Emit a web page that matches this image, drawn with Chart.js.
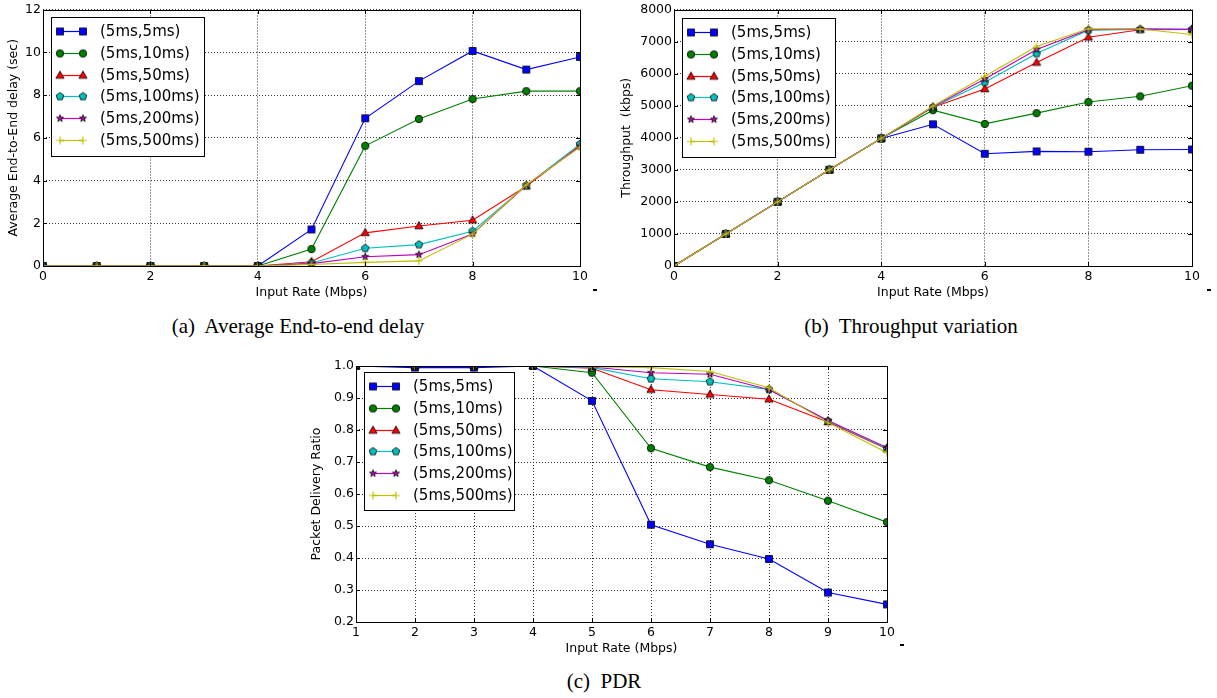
<!DOCTYPE html>
<html>
<head>
<meta charset="utf-8">
<script src="https://cdn.jsdelivr.net/npm/chart.js@4.4.0/dist/chart.umd.min.js"></script>
<style>
  body { margin: 0; background: #fff; width: 1217px; height: 698px; position: relative; overflow: hidden; }
  canvas { position: absolute; }
  .cap { position: absolute; width: 400px; text-align: center; font-family: 'Liberation Serif'; font-size: 21px; line-height: 21px; white-space: pre; color: #000; }
  .dash { position: absolute; width: 4px; height: 2px; background: #000; }
</style>
</head>
<body>
<canvas id="cA" width="605" height="305" style="left:0px;top:0px"></canvas>
<canvas id="cB" width="607" height="305" style="left:610px;top:0px"></canvas>
<canvas id="cC" width="610" height="305" style="left:300px;top:355px"></canvas>
<div class="cap" style="left:98px;top:316px">(a)  Average End-to-end delay</div>
<div class="cap" style="left:711px;top:316px">(b)  Throughput variation</div>
<div class="cap" style="left:404px;top:671px">(c)  PDR</div>
<div class="dash" style="left:593px;top:289px"></div>
<div class="dash" style="left:1207px;top:289px"></div>
<div class="dash" style="left:900px;top:644px"></div>
<script>
// legend labels and colours (one per series)
const seriesLabels = ['(5ms,5ms)', '(5ms,10ms)', '(5ms,50ms)', '(5ms,100ms)', '(5ms,200ms)', '(5ms,500ms)'];
const seriesColors = ['#0000ff', '#008000', '#ff0000', '#00bfbf', '#bf00bf', '#bfbf00'];
const seriesMarkers = ['square', 'circle', 'triangle', 'pentagon', 'star', 'plus'];

// (a) average end-to-end delay (sec)
const rateA = [0, 1, 2, 3, 4, 5, 6, 7, 8, 9, 10];
const delay5 = [0, 0, 0, 0, 0, 1.71, 6.91, 8.65, 10.06, 9.19, 9.78];
const delay10 = [0, 0, 0, 0, 0, 0.79, 5.62, 6.88, 7.81, 8.18, 8.18];
const delay50 = [0, 0, 0, 0, 0, 0.2, 1.55, 1.87, 2.14, 3.73, 5.64];
const delay100 = [0, 0, 0, 0, 0, 0.14, 0.83, 1.0, 1.63, 3.77, 5.7];
const delay200 = [0, 0, 0, 0, 0, 0.11, 0.43, 0.53, 1.5, 3.77, 5.59];
const delay500 = [0, 0, 0, 0, 0, 0.07, 0.17, 0.24, 1.49, 3.8, 5.56];
const delayXTicks = [0, 2, 4, 6, 8, 10];
const delayYTicks = [0, 2, 4, 6, 8, 10, 12];

// (b) throughput (kbps)
const rateB = [0, 1, 2, 3, 4, 5, 6, 7, 8, 9, 10];
const thr5 = [0, 1000, 2000, 3000, 3980, 4420, 3500, 3575, 3565, 3625, 3635];
const thr10 = [0, 1000, 2000, 3000, 3980, 4860, 4432, 4767, 5114, 5292, 5622];
const thr50 = [0, 1000, 2000, 3000, 3980, 4950, 5520, 6345, 7132, 7370, 7375];
const thr100 = [0, 1000, 2000, 3000, 3980, 4955, 5730, 6626, 7355, 7380, 7380];
const thr200 = [0, 1000, 2000, 3000, 3980, 4970, 5830, 6755, 7372, 7395, 7380];
const thr500 = [0, 1000, 2000, 3000, 3980, 4990, 5915, 6846, 7400, 7390, 7220];
const thrXTicks = [0, 2, 4, 6, 8, 10];
const thrYTicks = [0, 1000, 2000, 3000, 4000, 5000, 6000, 7000, 8000];

// (c) packet delivery ratio
const rateC = [1, 2, 3, 4, 5, 6, 7, 8, 9, 10];
const pdr5 = [1.0, 0.995, 0.995, 1.0, 0.891, 0.504, 0.443, 0.397, 0.292, 0.255];
const pdr10 = [1.0, 1.0, 1.0, 1.0, 0.979, 0.743, 0.684, 0.643, 0.579, 0.512];
const pdr50 = [1.0, 1.0, 1.0, 1.0, 0.993, 0.926, 0.911, 0.896, 0.825, 0.741];
const pdr100 = [1.0, 1.0, 1.0, 1.0, 0.995, 0.96, 0.951, 0.927, 0.828, 0.742];
const pdr200 = [1.0, 1.0, 1.0, 1.0, 0.997, 0.979, 0.974, 0.926, 0.83, 0.745];
const pdr500 = [1.0, 1.0, 1.0, 1.0, 0.998, 0.995, 0.983, 0.932, 0.823, 0.729];
const pdrXTicks = [1, 2, 3, 4, 5, 6, 7, 8, 9, 10];
const pdrYTicks = [0.2, 0.3, 0.4, 0.5, 0.6, 0.7, 0.8, 0.9, 1.0];

Chart.defaults.font.family = "'DejaVu Sans'";
Chart.defaults.font.size = 12.5;
Chart.defaults.color = '#000';

// matplotlib-like markers drawn on small canvases
function makeMarker(shape, color) {
  const c = document.createElement('canvas');
  c.width = 14; c.height = 14;
  const g = c.getContext('2d');
  g.translate(7, 7);
  g.fillStyle = color;
  g.strokeStyle = '#000';
  g.lineWidth = 0.8;
  g.beginPath();
  if (shape === 'square') {
    g.rect(-3.5, -3.5, 7, 7);
  } else if (shape === 'circle') {
    g.arc(0, 0, 3.7, 0, Math.PI * 2);
  } else if (shape === 'triangle') {
    g.moveTo(0, -4.4); g.lineTo(4.1, 2.8); g.lineTo(-4.1, 2.8); g.closePath();
  } else if (shape === 'pentagon') {
    for (let k = 0; k < 5; k++) {
      const a = -Math.PI / 2 + k * 2 * Math.PI / 5;
      g.lineTo(Math.cos(a) * 4, Math.sin(a) * 4);
    }
    g.closePath();
  } else if (shape === 'star') {
    for (let k = 0; k < 10; k++) {
      const a = -Math.PI / 2 + k * Math.PI / 5;
      const r = k % 2 ? 1.5 : 3.7;
      g.lineTo(Math.cos(a) * r, Math.sin(a) * r);
    }
    g.closePath();
  } else if (shape === 'plus') {
    g.strokeStyle = color;
    g.lineWidth = 1.1;
    g.moveTo(-4, 0); g.lineTo(4, 0); g.moveTo(0, -4); g.lineTo(0, 4);
    g.stroke();
    return c;
  }
  g.fill();
  g.stroke();
  return c;
}
const markerImgs = seriesMarkers.map((m, i) => makeMarker(m, seriesColors[i]));

// frame, inward ticks and the legend box
const mplPlugin = {
  id: 'mpl',
  afterDatasetsDraw(chart, args, o) {
    const ctx = chart.ctx;
    const a = chart.chartArea;
    const L = Math.round(a.left), R = Math.round(a.right), T = Math.round(a.top), B = Math.round(a.bottom);
    ctx.save();
    ctx.strokeStyle = '#000';
    ctx.lineWidth = 1;
    ctx.beginPath();
    chart.scales.x.ticks.forEach(t => {
      const px = Math.round(chart.scales.x.getPixelForValue(t.value)) + 0.5;
      ctx.moveTo(px, B); ctx.lineTo(px, B - 4);
      ctx.moveTo(px, T); ctx.lineTo(px, T + 4);
    });
    chart.scales.y.ticks.forEach(t => {
      const py = Math.round(chart.scales.y.getPixelForValue(t.value)) + 0.5;
      ctx.moveTo(L, py); ctx.lineTo(L + 4, py);
      ctx.moveTo(R, py); ctx.lineTo(R - 4, py);
    });
    ctx.stroke();
    ctx.strokeRect(L + 0.5, T + 0.5, R - L, B - T);

    // legend
    const x0 = L + o.dx, y0 = T + o.dy;
    ctx.fillStyle = '#fff';
    ctx.fillRect(x0, y0, o.w, o.h);
    ctx.strokeRect(x0 + 0.5, y0 + 0.5, o.w, o.h);
    ctx.font = "15px 'DejaVu Sans'";
    ctx.textBaseline = 'middle';
    chart.data.datasets.forEach((ds, i) => {
      const y = Math.round(y0 + 14 + i * 21.8) + 0.5;
      ctx.strokeStyle = ds.borderColor;
      ctx.lineWidth = 1.2;
      ctx.beginPath();
      ctx.moveTo(x0 + 9, y); ctx.lineTo(x0 + 32, y);
      ctx.stroke();
      const img = ds.pointStyle;
      ctx.drawImage(img, x0 + 9 - 7, y - 7);
      ctx.drawImage(img, x0 + 32 - 7, y - 7);
      ctx.fillStyle = '#000';
      ctx.fillText(ds.label, x0 + 49, y + 1);
    });
    ctx.restore();
  }
};

function buildChart(id, xs, ys, cfg) {
  const datasets = ys.map((arr, i) => ({
    label: seriesLabels[i],
    data: xs.map((x, j) => ({ x: x, y: arr[j] })),
    borderColor: seriesColors[i],
    backgroundColor: seriesColors[i],
    borderWidth: 1.1,
    pointStyle: markerImgs[i],
    pointRadius: 4,
    tension: 0,
    order: ys.length - 1 - i
  }));
  const axisCommon = {
    type: 'linear',
    grid: { color: 'rgba(0,0,0,0.8)', lineWidth: 1, drawTicks: false },
    border: { display: false, dash: [1, 2] }
  };
  new Chart(document.getElementById(id), {
    type: 'line',
    data: { datasets: datasets },
    options: {
      responsive: false,
      animation: false,
      devicePixelRatio: 1,
      layout: { padding: { left: 0, top: cfg.padTop, right: cfg.padRight, bottom: 0 } },
      scales: {
        x: Object.assign({}, axisCommon, {
          min: cfg.xTicks[0], max: cfg.xTicks[cfg.xTicks.length - 1],
          afterBuildTicks: s => { s.ticks = cfg.xTicks.map(v => ({ value: v })); },
          afterFit: s => { s.height = cfg.xH; },
          ticks: { padding: 3, autoSkip: false, maxRotation: 0, callback: v => String(v) },
          title: { display: true, text: 'Input Rate (Mbps)', padding: { bottom: cfg.xTitlePad, top: 0 } }
        }),
        y: Object.assign({}, axisCommon, {
          min: cfg.yTicks[0], max: cfg.yTicks[cfg.yTicks.length - 1],
          afterBuildTicks: s => { s.ticks = cfg.yTicks.map(v => ({ value: v })); },
          afterFit: s => { s.width = cfg.yW; },
          ticks: { padding: 2, autoSkip: false, callback: cfg.yFmt },
          title: { display: true, text: cfg.yTitle, padding: { top: cfg.yTitlePad, bottom: 0 } }
        })
      },
      plugins: {
        legend: { display: false },
        tooltip: { enabled: false },
        mpl: cfg.legend
      }
    },
    plugins: [mplPlugin]
  });
}

buildChart('cA', rateA, [delay5, delay10, delay50, delay100, delay200, delay500], {
  xTicks: delayXTicks, yTicks: delayYTicks, yFmt: v => String(v),
  yTitle: 'Average End-to-End delay (sec)',
  padTop: 9, padRight: 25, xH: 39, yW: 43, xTitlePad: 5, yTitlePad: 6,
  legend: { dx: 8, dy: 7, w: 153, h: 139 }
});
buildChart('cB', rateB, [thr5, thr10, thr50, thr100, thr200, thr500], {
  xTicks: thrXTicks, yTicks: thrYTicks, yFmt: v => String(v),
  yTitle: 'Throughput  (kbps)',
  padTop: 9, padRight: 25, xH: 39, yW: 64, xTitlePad: 5, yTitlePad: 9,
  legend: { dx: 8, dy: 8, w: 153, h: 139 }
});
buildChart('cC', rateC, [pdr5, pdr10, pdr50, pdr100, pdr200, pdr500], {
  xTicks: pdrXTicks, yTicks: pdrYTicks, yFmt: v => v.toFixed(1),
  yTitle: 'Packet Delivery Ratio',
  padTop: 11, padRight: 23, xH: 38, yW: 56, xTitlePad: 4, yTitlePad: 9,
  legend: { dx: 8, dy: 6, w: 150, h: 138 }
});
</script>
</body>
</html>
